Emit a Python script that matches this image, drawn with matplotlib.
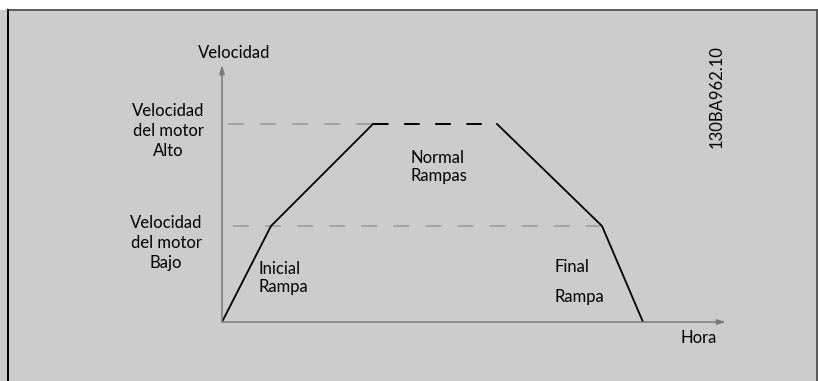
import matplotlib.pyplot as plt
from matplotlib.lines import Line2D
from matplotlib.patches import Rectangle

# Perfil de velocidad (unidades relativas)
tiempos = [0, 4.9, 15.1, 27.5, 38.0, 42.1]
velocidades = [0, 48, 99, 99, 48, 0]
vel_baja = 48
vel_alta = 99

W, H = 818, 381
FONDO = '#cccccc'
GRIS_EJE = '#7a7a7a'
GRIS_GUION = '#999999'

plt.rcParams['font.family'] = ['Lato', 'DejaVu Sans']


def px(x, y):
    """Pixel -> fraccion de figura."""
    return x / W, 1 - y / H


fig = plt.figure(figsize=(W / 100, H / 100), dpi=100)
fig.patch.set_facecolor(FONDO)

# banda blanca superior y marco
fig.add_artist(Rectangle((0, 1 - 9.5 / H), 1, 9.5 / H, transform=fig.transFigure,
                         facecolor='white', edgecolor='none'))
fig.add_artist(Line2D([8 / W, 817 / W], [1 - 10 / H, 1 - 10 / H], transform=fig.transFigure,
                      color='#505050', lw=1.3))
fig.add_artist(Line2D([8 / W, 8 / W], [0, 1 - 10 / H], transform=fig.transFigure,
                      color='black', lw=1.4))
fig.add_artist(Line2D([817 / W, 817 / W], [0, 1 - 10 / H], transform=fig.transFigure,
                      color='#505050', lw=1.3))

# ejes: origen en (222, 322) px, punta x en 726, punta y en 65
x0, y0, x1, y1 = 222, 322, 726, 65
ax = fig.add_axes([x0 / W, (H - y0) / H, (x1 - x0) / W, (y0 - y1) / H])
ax.set_xlim(0, (x1 - x0) / 10)
ax.set_ylim(0, (y0 - y1) / 2)
ax.axis('off')

# flechas de los ejes
for destino in [(1, 0), (0, 1)]:
    ax.annotate('', xy=destino, xytext=(0, 0), xycoords='axes fraction',
                arrowprops=dict(arrowstyle='-|>,head_length=0.5,head_width=0.15',
                                color=GRIS_EJE, lw=1.1, shrinkA=0, shrinkB=0))

# lineas de referencia discontinuas
ax.plot([0.6, tiempos[2]], [vel_alta, vel_alta], color=GRIS_GUION, lw=1.1,
        dashes=(10.5, 10.5), dash_capstyle='butt')
ax.plot([1.1, tiempos[4]], [vel_baja, vel_baja], color=GRIS_GUION, lw=1.1,
        dashes=(10.5, 10.5), dash_capstyle='butt')

# perfil
ax.plot(tiempos[:3], velocidades[:3], color='black', lw=1.3)
ax.plot(tiempos[3:], velocidades[3:], color='black', lw=1.3)
ax.plot(tiempos[2:4], velocidades[2:4], color='black', lw=1.4,
        dashes=(8, 8), dash_capstyle='butt')

# textos
fs = 12
fig.text(*px(234, 53), 'Velocidad', fontsize=fs, ha='center', va='center')
fig.text(*px(168, 131), 'Velocidad\ndel motor\nAlto', fontsize=fs, ha='center',
         va='center', linespacing=1.3, multialignment='center')
fig.text(*px(166, 243), 'Velocidad\ndel motor\nBajo', fontsize=fs, ha='center',
         va='center', linespacing=1.3, multialignment='center')
fig.text(*px(258, 278), 'Inicial\nRampa', fontsize=fs, ha='left', va='center',
         linespacing=1.15)
fig.text(*px(410, 167), 'Normal\nRampas', fontsize=fs, ha='left', va='center',
         linespacing=1.15)
fig.text(*px(555, 267), 'Final', fontsize=fs, ha='left', va='center')
fig.text(*px(555, 297), 'Rampa', fontsize=fs, ha='left', va='center')
fig.text(*px(699, 338), 'Hora', fontsize=fs, ha='center', va='center')
fig.text(*px(717, 97), '130BA962.10', fontsize=fs, ha='center', va='center',
         rotation=90)

fig.savefig('out.png', dpi=100, facecolor=fig.get_facecolor())
